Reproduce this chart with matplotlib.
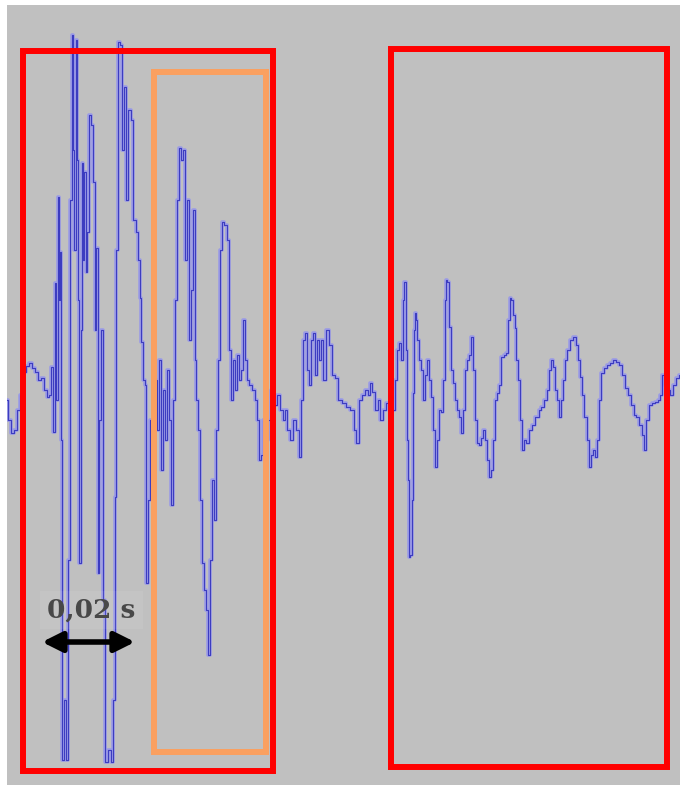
import matplotlib.pyplot as plt
from matplotlib.patches import Rectangle

# 采样率（0.02 s 对应 93 个采样点）
fs = 4650

# 波形数据：采样序号 和 幅值
samples = [0, 2, 5, 8, 11, 14, 17, 20, 23, 26, 29, 32, 35, 38, 41, 43, 45, 47, 48, 50,
           51, 52, 53, 54, 56, 58, 60, 62, 64, 65, 66, 68, 69, 70, 71, 73, 74, 75, 76, 78,
           79, 81, 83, 85, 87, 88, 90, 91, 93, 95, 97, 99, 102, 105, 107, 108, 110, 111, 114, 116,
           118, 120, 122, 125, 127, 130, 132, 133, 135, 137, 138, 140, 142, 144,
           147, 149, 151, 153, 155, 157, 159, 161, 163, 165, 167, 169, 171, 173, 175, 177,
           179, 181, 183, 185, 187, 188, 190, 192, 194, 196, 198, 200, 202, 204, 206, 208,
           210, 212, 214, 215, 218, 221, 223, 225, 227, 229, 231, 233, 235, 237, 239, 241,
           243, 246, 249, 251, 253, 255, 257, 259, 262, 265, 268, 271, 274, 277, 279, 281,
           284, 287, 290, 293, 295, 297, 299, 301, 303, 305, 307, 309, 311, 313, 315, 317,
           320, 323, 326, 329, 333, 337, 341, 345, 348, 350, 353, 356, 359, 362, 364, 366,
           369, 372, 374, 377, 380, 383,
           386, 389, 391, 393, 395, 396, 398, 399, 400, 401, 402, 404, 405, 406, 407, 408,
           409, 411, 413, 415, 417, 419, 421, 423, 425, 427, 429, 431, 433, 435, 437, 438,
           439, 441, 443, 445, 447, 449, 451, 453, 455, 457, 459, 461, 463, 465, 467, 469,
           471, 473, 475, 477, 479, 481, 483, 485, 487, 489, 491, 493, 495, 498, 500, 502,
           503, 505, 507, 508, 510, 512, 514, 516, 518, 520, 523, 526, 530, 533, 535, 538,
           541, 543, 545, 547, 549, 551, 553, 555, 557, 559, 561, 564, 567, 570, 572, 574,
           576, 578, 581, 583, 585, 587, 589, 591, 593, 595, 598, 601, 604, 607, 610, 613,
           616, 619, 622, 625, 628, 630, 633, 636, 638, 640, 643, 646, 649, 652, 654, 656,
           658, 661, 664, 667, 670, 673]
amplitude = [0, -20, -33, -30, -10, 5, 28, 34, 37, 32, 28, 20, 22, 10, 3, 5, 33, -32, 117, 0,
             203, 100, 148, -40, -360, -300, -360, -160, 200, 365, 250, 150, 360, 240, 100, -163,
             70, 237, 140, 228, 128, 168, 285, 275, 218, 70, 152, -173, -20, 70, -200, -362,
             -350, -362, -300, -97, 150, 358, 355, 250, 313, 200, 290, 280, 180, 168, 140, 102,
             58, 20, 15, -183, -100, -20,
             -70, 20, -30, 40, -70, 10, -40, 30, -20, -105, 0, 100, 200, 252, 240, 250,
             140, 200, 60, 110, 190, 40, 0, -30, -100, -163, -190, -210, -255, -160, -80, -120,
             -30, 40, 150, 178, 175, 160, 50, 0, 40, 10, 45, 20, 30, 80, 40, 20,
             15, 10, 0, -20, -60, -55, -20, -40, -20, 10, -5, 5, -10, -20, -10, -30,
             -40, -20, -30, -57, 0, 60, 67, 30, 15, 60, 67, 25, 60, 40, 60, 20,
             70, 55, 25, 22, 0, -3, -7, -10, -30, -43, 0, 5, 10, 5, 17, 8,
             -10, 0, -20, -10, -3, -5,
             -10, 20, 50, 57, 40, 100, 118, 50, -40, -80, -157, -155, -100, 7, 70, 87,
             80, 60, 40, 30, 0, 25, 40, 20, 3, -30, -67, -40, -10, -12, 20, 100,
             120, 118, 73, 30, 17, 0, -10, -17, -33, -10, 30, 40, 45, 63, 30, -20,
             -43, -45, -38, -30, -40, -60, -77, -70, -40, 0, 7, 15, 43, 45, 47, 80,
             102, 100, 85, 72, 40, 20, -20, -50, -40, -43, -30, -25, -17, -10, -7, 0,
             10, 30, 40, 33, 10, 0, -17, 0, 20, 40, 50, 60, 63, 55, 40, 23,
             5, -17, -40, -67, -55, -50, -57, -40, 0, 27, 32, 35, 37, 40, 38, 35,
             25, 12, 5, -5, -15, -17, -25, -35, -50, -20, -5, -3, -2, 0, 5, 25,
             15, 10, 5, 15, 22, 25]

# 标注框（采样序号范围，幅值范围）
red_boxes = [(16, 266, -371, 349), (384, 660, -367, 351)]
orange_box = (147, 259, -352, 328)

# 0,02 s 的时间标尺
scale_start = 35
scale_len = 0.02 * fs
scale_amp = -242

fig = plt.figure(figsize=(6.8, 7.85), dpi=100)
fig.patch.set_facecolor('white')
ax = fig.add_axes([7 / 680, 0, 673 / 680, 780 / 785])
ax.set_facecolor('#c0c0c0')
ax.set_xlim(0, 673)
ax.set_ylim(-385, 395)
ax.axis('off')
ax.add_patch(Rectangle((0, -385), 673, 780, facecolor='#c0c0c0', edgecolor='none', zorder=0))

# 波形：浅色描边 + 深蓝主线
ax.plot(samples, amplitude, drawstyle='steps-mid', color='#9a9ae6', lw=2.6, zorder=2)
ax.plot(samples, amplitude, drawstyle='steps-mid', color='#3c3cc0', lw=0.8, zorder=3)

# 红框和橙框
for x0, x1, y0, y1 in red_boxes:
    ax.add_patch(Rectangle((x0, y0), x1 - x0, y1 - y0, fill=False,
                           edgecolor='#ff0000', lw=4.3, zorder=4, clip_on=False))
ox0, ox1, oy0, oy1 = orange_box
ax.add_patch(Rectangle((ox0, oy0), ox1 - ox0, oy1 - oy0, fill=False,
                       edgecolor='#faa060', lw=4.3, zorder=4, clip_on=False))

# 双向箭头和文字
ax.annotate('', xy=(scale_start, scale_amp), xytext=(scale_start + scale_len, scale_amp),
            arrowprops=dict(arrowstyle='<|-|>', color='black', lw=4,
                            mutation_scale=30, shrinkA=0, shrinkB=0), zorder=5)
ax.text(scale_start + scale_len / 2 + 3, scale_amp + 32, '0,02 s', ha='center', va='center',
        fontsize=19, fontweight='bold', family='DejaVu Serif', color='#484848', zorder=5,
        bbox=dict(facecolor='white', alpha=0.07, edgecolor='none', pad=5))

plt.savefig('out.png', dpi=100)
